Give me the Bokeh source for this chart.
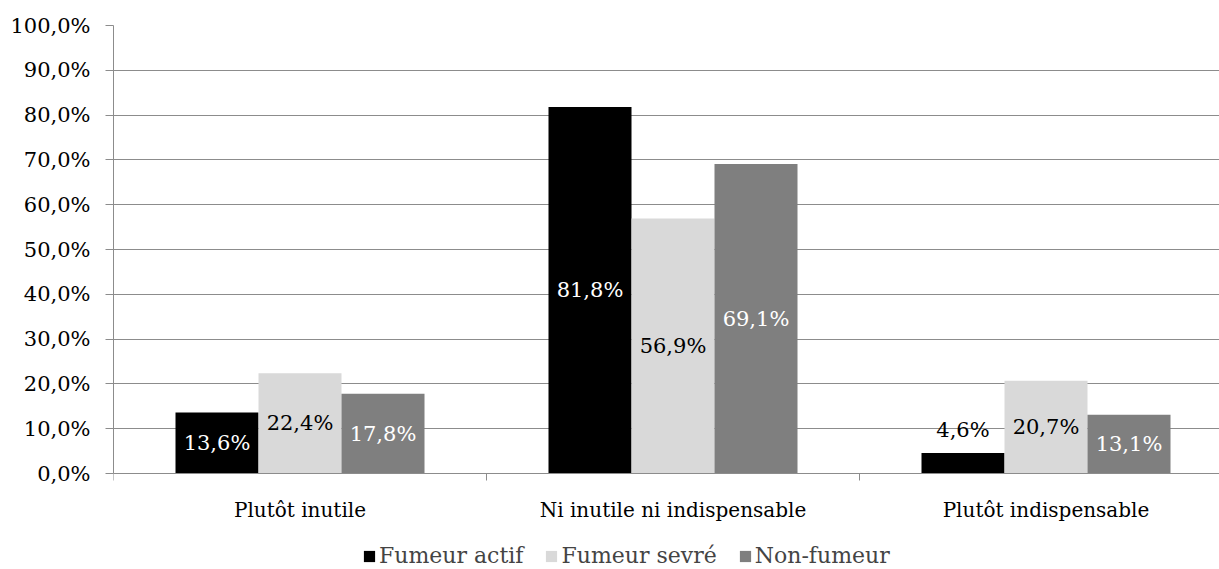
from bokeh.plotting import figure
from bokeh.models import Range1d, FixedTicker, Legend, LegendItem, ColumnDataSource
from bokeh.core.properties import value
from bokeh.embed import file_html
from bokeh.resources import INLINE

# ---- data ----
categories = ["Plutôt inutile", "Ni inutile ni indispensable", "Plutôt indispensable"]
series_names = ["Fumeur actif", "Fumeur sevré", "Non-fumeur"]
fumeur_actif = [13.6, 81.8, 4.6]
fumeur_sevre = [22.4, 56.9, 20.7]
non_fumeur = [17.8, 69.1, 13.1]
y_ticks = [0, 10, 20, 30, 40, 50, 60, 70, 80, 90, 100]
y_tick_labels = ["0,0%", "10,0%", "20,0%", "30,0%", "40,0%", "50,0%",
                 "60,0%", "70,0%", "80,0%", "90,0%", "100,0%"]

# ---- style ----
FONT = "DejaVu Serif"
FS_X = "20px"
FS_Y = "21px"
FS_D = "21px"
FS_L = "22px"
GRID = "#8c8c8c"
colors = ["#000000", "#D9D9D9", "#7F7F7F"]
inside_label_colors = ["white", "black", "white"]

W, H = 1219, 569
LEFT, TOP, ZERO_Y = 113, 25, 473      # frame left, 100% line, 0% line (px)
CAT_PX = 373.0
PX_PER_PCT = (ZERO_Y - TOP) / 100.0
BAR_W = 83.0 / CAT_PX
x_end = (W - LEFT) / CAT_PX
y_start = -(H - ZERO_Y) / PX_PER_PCT

p = figure(width=W, height=H, output_backend="svg", toolbar_location=None,
           x_range=Range1d(0, x_end), y_range=Range1d(y_start, 100),
           min_border_left=LEFT, min_border_top=TOP, min_border_right=0, min_border_bottom=0)
p.outline_line_color = None
p.background_fill_color = "white"
p.border_fill_color = "white"

series = [fumeur_actif, fumeur_sevre, non_fumeur]
renderers = []
for j, vals in enumerate(series):
    xs = [i + 0.5 + (j - 1) * BAR_W for i in range(len(categories))]
    src = ColumnDataSource(dict(x=xs, top=vals))
    r = p.vbar(x="x", top="top", width=BAR_W, bottom=0, source=src,
               fill_color=colors[j], line_color=None)
    renderers.append(r)
    ly, lc, lt = [], [], []
    for v in vals:
        if v < 10:
            ly.append(v + 5)
            lc.append("black")
        else:
            ly.append(v / 2)
            lc.append(inside_label_colors[j])
        lt.append(("%.1f%%" % v).replace(".", ","))
    lsrc = ColumnDataSource(dict(x=xs, y=ly, t=lt, c=lc))
    p.text(x="x", y="y", text="t", text_color="c", source=lsrc,
           text_font=value(FONT), text_font_size=value(FS_D),
           text_align="center", text_baseline="middle")

# y axis
p.yaxis.ticker = FixedTicker(ticks=y_ticks, minor_ticks=[])
p.yaxis.bounds = (0, 100)
p.yaxis.major_label_overrides = {t: l for t, l in zip(y_ticks, y_tick_labels)}
p.yaxis.axis_line_color = GRID
p.yaxis.major_tick_line_color = GRID
p.yaxis.major_tick_out = 8
p.yaxis.major_tick_in = 0
p.yaxis.minor_tick_line_color = None
p.yaxis.major_label_standoff = 15
p.yaxis.major_label_text_font = FONT
p.yaxis.major_label_text_font_size = FS_Y
p.yaxis.major_label_text_color = "black"

# x axis, fixed at 0 %
centers = [i + 0.5 for i in range(len(categories))]
bounds = [float(i) for i in range(len(categories) + 1)]
p.xaxis.fixed_location = 0
p.xaxis.ticker = FixedTicker(ticks=centers, minor_ticks=bounds)
p.xaxis.major_label_overrides = {c: l for c, l in zip(centers, categories)}
p.xaxis.axis_line_color = GRID
p.xaxis.major_tick_line_color = None
p.xaxis.minor_tick_line_color = GRID
p.xaxis.minor_tick_out = 7
p.xaxis.minor_tick_in = 0
p.xaxis.major_label_standoff = 17
p.xaxis.major_label_text_font = FONT
p.xaxis.major_label_text_font_size = FS_X
p.xaxis.major_label_text_color = "black"

p.xgrid.grid_line_color = None
p.ygrid.grid_line_color = GRID
p.ygrid.grid_line_width = 1

legend = Legend(items=[LegendItem(label=n, renderers=[r]) for n, r in zip(series_names, renderers)],
                orientation="horizontal", location=(249, 1),
                glyph_width=14, glyph_height=14, label_standoff=3, spacing=21,
                padding=0, margin=0, label_height=24,
                label_text_font=FONT, label_text_font_size=FS_L,
                background_fill_alpha=0, border_line_alpha=0)
p.add_layout(legend)

open("out.html", "w").write(file_html(p, INLINE))
